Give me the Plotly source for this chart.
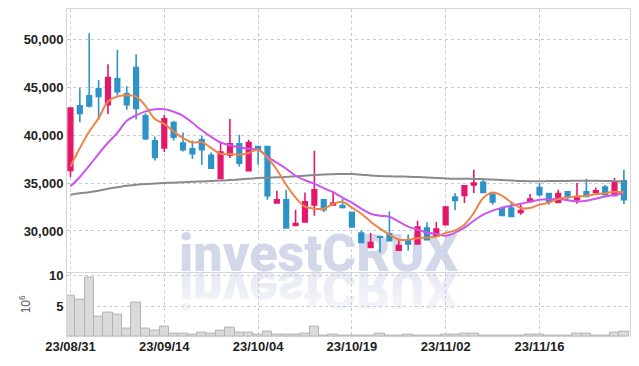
import plotly.graph_objects as go
from plotly.subplots import make_subplots

dates = ["23/08/31", "23/09/01", "23/09/04", "23/09/05", "23/09/06", "23/09/07", "23/09/08",
         "23/09/11", "23/09/12", "23/09/13", "23/09/14", "23/09/15", "23/09/18", "23/09/19",
         "23/09/20", "23/09/21", "23/09/22", "23/09/25", "23/09/26", "23/09/27", "23/10/04",
         "23/10/05", "23/10/06", "23/10/10", "23/10/11", "23/10/12", "23/10/13", "23/10/16",
         "23/10/17", "23/10/18", "23/10/19", "23/10/20", "23/10/23", "23/10/24", "23/10/25",
         "23/10/26", "23/10/27", "23/10/30", "23/10/31", "23/11/01", "23/11/02", "23/11/03",
         "23/11/06", "23/11/07", "23/11/08", "23/11/09", "23/11/10", "23/11/13", "23/11/14",
         "23/11/15", "23/11/16", "23/11/17", "23/11/20", "23/11/21", "23/11/22", "23/11/23",
         "23/11/24", "23/11/27", "23/11/28", "23/11/29"]

open_ = [36310, 43050, 44090, 44820, 43160, 45870, 44300, 47040, 42010, 39410,
         38650, 41310, 39170, 38570, 39510, 37880, 35480, 37920, 39090, 36280,
         38810, 38810, 32920, 33260, 30580, 30940, 32710, 33260, 32710, 32640,
         31940, 29790, 28290, 29400, 29710, 27980, 28980, 28650, 30310, 29440,
         30660, 33540, 33710, 34790, 35070, 33780, 32320, 32400, 31940, 33080,
         34540, 33890, 32980, 34090, 33260, 34090, 34020, 34580, 33710, 35240]
high = [42850, 44900, 50620, 45760, 47400, 48890, 45100, 48440, 42290, 39850,
        42120, 41490, 40270, 39440, 39930, 38190, 39170, 41670, 40030, 39510,
        38850, 38850, 34200, 34300, 32220, 34000, 38370, 33330, 34130, 33370,
        31940, 30060, 29790, 29450, 32040, 29200, 29620, 31070, 30900, 30940,
        32640, 33960, 34720, 36390, 35420, 34020, 32560, 32980, 32740, 33850,
        35000, 33890, 34300, 34120, 35000, 35420, 34540, 34790, 35520, 36390]
low = [35620, 41350, 42880, 41590, 42190, 44130, 42640, 41630, 39500, 37350,
       38230, 39440, 38290, 37500, 36910, 36460, 35480, 37600, 36730, 36280,
       36910, 33260, 32850, 30310, 30580, 30940, 31590, 31980, 32710, 32350,
       30420, 28800, 28290, 27760, 28980, 27980, 27950, 28650, 29090, 29440,
       30660, 32150, 32920, 33960, 34030, 32740, 31620, 31520, 31700, 33080,
       33600, 32740, 32980, 33260, 32840, 33600, 33780, 33780, 33600, 32810]
close = [42810, 42250, 43050, 44020, 46000, 44540, 43160, 42770, 39620, 37670,
         41700, 39790, 38470, 38050, 38470, 36560, 38230, 39090, 37080, 39230,
         38470, 33680, 33260, 30310, 30760, 33050, 34300, 32220, 32920, 32460,
         30420, 28810, 28810, 29350, 28980, 28470, 28650, 30420, 29090, 30210,
         32500, 33190, 34720, 35000, 34030, 33020, 31620, 31520, 32120, 33330,
         33780, 33080, 33890, 33540, 33600, 33600, 34200, 33780, 35140, 33260]

ma5 = [36730, 38650, 40380, 41770, 43500, 44020, 44170, 44020, 43050, 41670,
       41180, 40380, 39690, 39230, 39270, 38650, 38050, 38050, 37950, 38130,
       38470, 37640, 36390, 34820, 33470, 32530, 32320, 32320, 32840, 33050,
       32430, 31800, 30970, 30240, 29620, 29090, 29090, 29250, 29300, 29410,
       29790, 30060, 30660, 31880, 33440, 34020, 33680, 32980, 32400, 32400,
       32740, 32950, 33330, 33500, 33600, 33680, 33830, 33940, 34090, 34040]
ma20 = [34650, 35630, 36800, 38050, 39200, 40240, 41490, 42060, 42480, 42690,
        42690, 42430, 42010, 41280, 40500, 39820, 39230, 38940, 38710, 38570,
        38470, 37740, 37120, 36490, 35760, 35290, 34930, 34460, 34040, 33470,
        32950, 32320, 31800, 31590, 31490, 30970, 30450, 30140, 29820, 29720,
        29500, 29820, 30340, 31070, 31700, 32120, 32430, 32640, 32840, 33050,
        33260, 33310, 33330, 33210, 33080, 33160, 33370, 33600, 33780, 33940]
ma60 = [33780, 33940, 34040, 34200, 34410, 34560, 34720, 34820, 34900, 34950,
        35000, 35040, 35080, 35140, 35170, 35210, 35260, 35310, 35380, 35450,
        35520, 35550, 35590, 35640, 35710, 35760, 35830, 35890, 35920, 35950,
        35930, 35870, 35790, 35740, 35700, 35680, 35660, 35630, 35580, 35530,
        35480, 35450, 35440, 35430, 35410, 35380, 35320, 35270, 35210, 35190,
        35190, 35200, 35210, 35220, 35230, 35240, 35240, 35220, 35190, 35170]

volume_m = [6.8, 6.1, 9.7, 3.3, 3.95, 3.6, 1.35, 5.6, 1.35, 1.0,
            1.65, 0.6, 0.6, 0.35, 0.75, 0.5, 1.1, 1.6, 0.7, 0.8,
            0.45, 0.85, 0.35, 0.35, 0.45, 0.55, 1.65, 0.25, 0.35, 0.25,
            0.3, 0.2, 0.15, 0.55, 0.2, 0.2, 0.45, 0.2, 0.2, 0.3,
            0.35, 0.45, 0.6, 0.55, 0.25, 0.2, 0.2, 0.15, 0.2, 0.4,
            0.4, 0.2, 0.15, 0.2, 0.55, 0.55, 0.2, 0.2, 0.7, 0.85]

tick_dates = ["23/08/31", "23/09/14", "23/10/04", "23/10/19", "23/11/02", "23/11/16"]
price_ticks = [30000, 35000, 40000, 45000, 50000]
volume_ticks = [5, 10]

RED = "#e3186b"
BLUE = "#2e93c6"
GRID = "#c6c9d9"
BORDER = "#d6d6d6"
WM = "#d2d8ea"
TICKFONT = dict(family="Liberation Sans, Arial, sans-serif", size=13, color="#222222", weight="bold")

fig = make_subplots(rows=2, cols=1, shared_xaxes=True, vertical_spacing=0)

fig.add_trace(go.Candlestick(
    x=dates, open=open_, high=high, low=low, close=close,
    increasing=dict(line=dict(color=RED, width=1.6), fillcolor=RED),
    decreasing=dict(line=dict(color=BLUE, width=1.6), fillcolor=BLUE),
    whiskerwidth=0, showlegend=False, hoverinfo="skip"), row=1, col=1)

fig.add_trace(go.Scatter(x=dates, y=ma60, mode="lines", line=dict(color="#8a8a8a", width=2, shape="spline"),
                         showlegend=False, hoverinfo="skip"), row=1, col=1)
fig.add_trace(go.Scatter(x=dates, y=ma20, mode="lines", line=dict(color="#cc55ee", width=2, shape="spline"),
                         showlegend=False, hoverinfo="skip"), row=1, col=1)
fig.add_trace(go.Scatter(x=dates, y=ma5, mode="lines", line=dict(color="#ee8548", width=2, shape="spline"),
                         showlegend=False, hoverinfo="skip"), row=1, col=1)

fig.add_trace(go.Bar(x=dates, y=volume_m, marker=dict(color="#dadada", line=dict(color="#b4b4b4", width=1)),
                     showlegend=False, hoverinfo="skip"), row=2, col=1)

xr = [-0.37, 59.65]
common_x = dict(type="category", range=xr, showgrid=True, gridcolor=GRID, griddash="dot", gridwidth=1,
                tickmode="array", tickvals=tick_dates, ticktext=tick_dates, ticks="", zeroline=False,
                automargin=False)
fig.update_layout(
    xaxis=dict(**common_x, showticklabels=False, showline=True, linecolor=BORDER, linewidth=1, mirror=True,
               rangeslider=dict(visible=False), domain=[0, 1]),
    xaxis2=dict(**common_x, showticklabels=True, tickfont=TICKFONT, showline=False, domain=[0, 1]),
    yaxis=dict(domain=[0.1994, 1], range=[25760, 53156], tickmode="array", tickvals=price_ticks,
               tickformat=",d", tickfont=TICKFONT, showgrid=True, gridcolor=GRID, griddash="dot",
               showline=True, linecolor=BORDER, mirror=True, zeroline=False, ticks="", automargin=False),
    yaxis2=dict(domain=[0, 0.1994], range=[0, 10.7], tickmode="array", tickvals=volume_ticks,
                tickfont=TICKFONT, showgrid=True, gridcolor=GRID, griddash="dot",
                showline=True, linecolor=BORDER, mirror=True, zeroline=False, ticks="", automargin=False,
                title=dict(text="10<sup>6</sup>", font=dict(family="Liberation Sans, Arial, sans-serif", size=12,
                                                             color="#555555"), standoff=15)),
    bargap=0,
    width=623, height=350,
    margin=dict(l=59, r=1, t=1, b=20.5),
    paper_bgcolor="white", plot_bgcolor="white",
    annotations=[
        dict(text="investCRUX", xref="paper", yref="paper", x=0.447, y=0.256, xanchor="center", yanchor="middle",
             showarrow=False, font=dict(family="Roboto, Liberation Sans, sans-serif", size=52, color=WM,
                                         weight=900)),
        dict(text="investCRUX", xref="paper", yref="paper", x=0.447, y=0.145, xanchor="center", yanchor="middle",
             showarrow=False,
             font=dict(family="Roboto, Liberation Sans, sans-serif", size=52, color=WM, weight=900)),
    ],
)

post = """
var gd = document.getElementById('{plot_id}');
function wm(){
  var anns = gd.querySelectorAll('g.annotation');
  if (anns.length < 2) return;
  var svgns = 'http://www.w3.org/2000/svg';
  var defs = gd.querySelector('.main-svg defs');
  if (defs && !document.getElementById('wmfade')) {
    var lg = document.createElementNS(svgns, 'linearGradient');
    lg.setAttribute('id', 'wmfade');
    lg.setAttribute('x1', '0'); lg.setAttribute('y1', '0');
    lg.setAttribute('x2', '0'); lg.setAttribute('y2', '1');
    [[0, 0.12], [0.55, 0.45], [1, 0.6]].forEach(function(s){
      var st = document.createElementNS(svgns, 'stop');
      st.setAttribute('offset', s[0]);
      st.setAttribute('stop-color', '""" + WM + """');
      st.setAttribute('stop-opacity', s[1]);
      lg.appendChild(st);
    });
    defs.appendChild(lg);
  }
  var t = anns[1].querySelector('text');
  if (t) {
    var bb = t.getBBox();
    var c = bb.y + bb.height / 2;
    t.setAttribute('transform', 'translate(0,' + (2 * c) + ') scale(1,-1)');
    t.style.fill = 'url(#wmfade)';
  }
  var below = gd.querySelector('.main-svg .layer-below');
  if (below) {
    anns.forEach(function(a){ below.appendChild(a); });
  }
}
wm();
"""

fig.write_html("out.html", post_script=post)
